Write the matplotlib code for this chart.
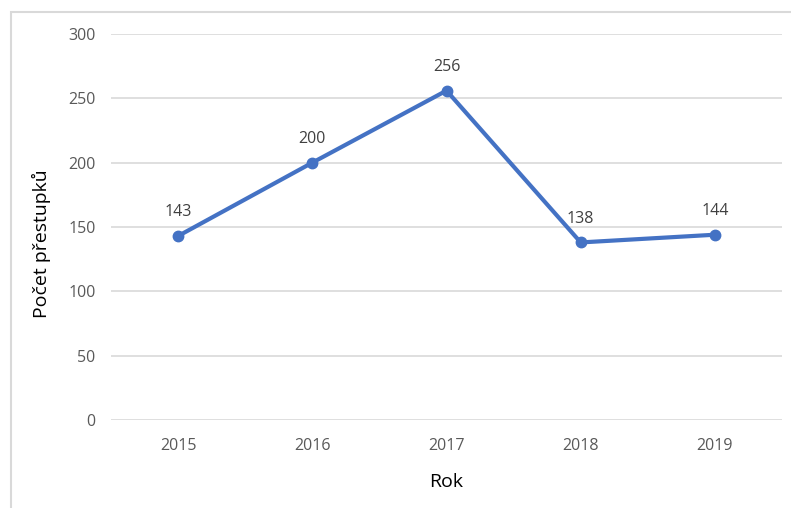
import matplotlib
matplotlib.use("Agg")
import matplotlib.pyplot as plt
from matplotlib.patches import Rectangle

years = ["2015", "2016", "2017", "2018", "2019"]
values = [143, 200, 256, 138, 144]
yticks = [0, 50, 100, 150, 200, 250, 300]

plt.rcParams['font.family'] = ['Open Sans', 'DejaVu Sans']

W, H = 791, 508
fig = plt.figure(figsize=(W / 100, H / 100), dpi=100)
ax = fig.add_axes([111 / W, 1 - 420 / H, (782 - 111) / W, (420 - 34) / H])

x = list(range(len(years)))
ax.plot(x, values, color="#4472C4", lw=3.0, marker="o", markersize=7.5,
        solid_capstyle="round", zorder=3)
for xi, v in zip(x, values):
    ax.annotate(str(v), (xi, v), xytext=(0, 17), textcoords="offset points",
                ha="center", va="center", fontsize=11.5, color="#404040")

ax.set_xlim(-0.5, len(years) - 0.5)
ax.set_ylim(0, 300)
ax.set_yticks(yticks)
ax.set_xticks(x)
ax.set_xticklabels(years)
ax.grid(axis="y", color="#d9d9d9", lw=1.2)
ax.set_axisbelow(True)
for s in ax.spines.values():
    s.set_visible(False)
ax.tick_params(axis="both", length=0, labelsize=11.5, colors="#595959")
ax.tick_params(axis="x", pad=13)
ax.tick_params(axis="y", pad=11)
ax.set_xlabel("Rok", fontsize=14, color="#000000")
ax.set_ylabel("Počet přestupků", fontsize=14, color="#000000")
ax.xaxis.set_label_coords((446 - 111) / 671, -(482 - 420) / 386)
ax.yaxis.set_label_coords((41 - 111) / 671, (420 - 244) / 386)
ax.xaxis.label.set_va("center")
ax.yaxis.label.set_va("center")

fig.patches.append(Rectangle((11 / W, -0.1), 1.2, 1 - 12 / H + 0.1,
                             transform=fig.transFigure, fill=False,
                             edgecolor="#d9d9d9", lw=1.5))

fig.savefig("out.png", dpi=100)
